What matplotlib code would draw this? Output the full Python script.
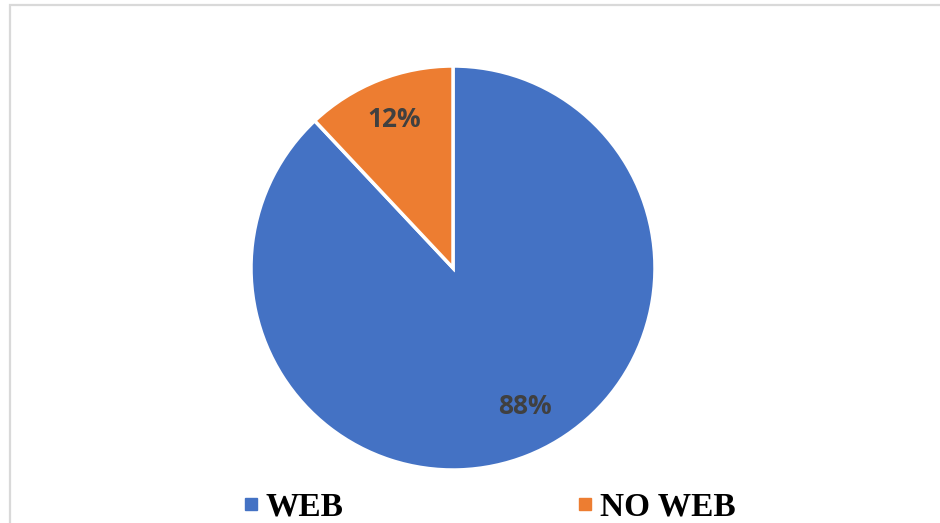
import numpy as np
import matplotlib
matplotlib.use("Agg")
import matplotlib.pyplot as plt
from matplotlib.lines import Line2D
from matplotlib.patches import Rectangle

categories = ["WEB", "NO WEB"]
values = [88, 12]
colors = ["#4472C4", "#ED7D31"]

W, H = 940, 523
fig = plt.figure(figsize=(W / 100, H / 100), dpi=100)
ax = fig.add_axes([0, 0, 1, 1])

# chart-area border (light gray)
fig.patches.append(Rectangle((10 / W, -0.1), 1.2, (H - 5) / H + 0.1,
                             transform=fig.transFigure, fill=False,
                             edgecolor="#D9D9D9", linewidth=1.6, zorder=0))

cx, cy, r = 453, H - 268, 202
wedges, texts, autotexts = ax.pie(
    values, colors=colors, startangle=90, counterclock=False,
    center=(cx, cy), radius=r, frame=True,
    autopct=lambda p: f"{p:.0f}%", pctdistance=0.79,
    wedgeprops=dict(edgecolor="white", linewidth=2.5),
    textprops=dict(color="#404040", fontsize=19, fontweight="bold",
                   family=["Open Sans", "DejaVu Sans"]))
# best-fit style placement of the large-slice label
ang = np.deg2rad(-62.5)
autotexts[0].set_position((cx + 0.775 * r * np.cos(ang), cy + 0.775 * r * np.sin(ang)))
ax.set_xlim(0, W)
ax.set_ylim(0, H)
ax.set_aspect("equal")
ax.axis("off")

handles = [Line2D([], [], marker="s", linestyle="none", markersize=8,
                  markerfacecolor=c, markeredgecolor=c) for c in colors]
fig.legend(handles, categories, loc="lower center", ncol=2,
           bbox_to_anchor=(0.5205, -0.056), frameon=False,
           prop=dict(family=["Liberation Serif"], weight="bold", size=24),
           handletextpad=0.2, columnspacing=7.0, handlelength=0.5)

fig.savefig("out.png", dpi=100)
